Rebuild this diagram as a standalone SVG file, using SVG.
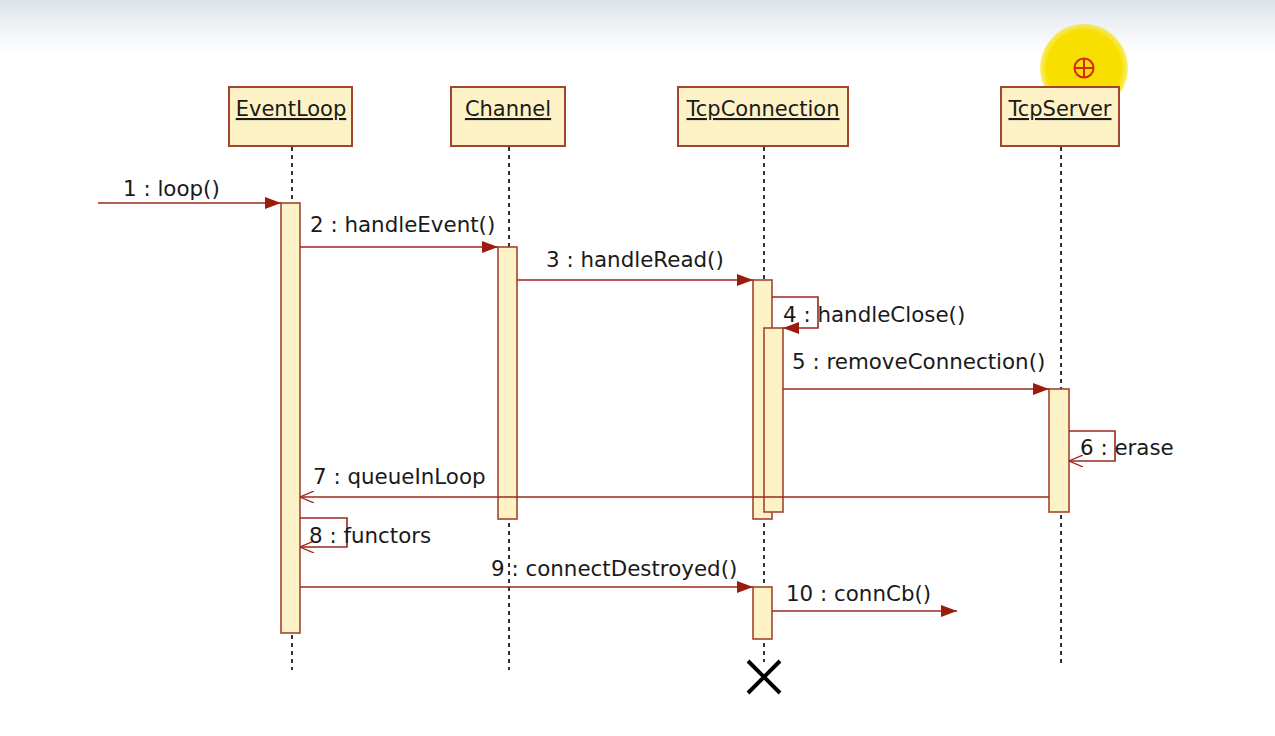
<svg xmlns="http://www.w3.org/2000/svg" width="1275" height="736" viewBox="0 0 1275 736">
  <defs>
    <linearGradient id="topBand" x1="0" y1="0" x2="0" y2="1">
      <stop offset="0" stop-color="#dbe2e8"/>
      <stop offset="0.45" stop-color="#eef1f4"/>
      <stop offset="1" stop-color="#ffffff"/>
    </linearGradient>
    <radialGradient id="spot" cx="0.5" cy="0.5" r="0.5">
      <stop offset="0.85" stop-color="#f7e000"/>
      <stop offset="1" stop-color="#f7e000" stop-opacity="0.55"/>
    </radialGradient>
    <marker id="filled" viewBox="0 0 16 12" refX="16" refY="6" markerWidth="16" markerHeight="12" markerUnits="userSpaceOnUse" orient="auto">
      <path d="M0,0 L16,6 L0,12 Z" fill="#9a1c0c"/>
    </marker>
    <marker id="open" viewBox="0 0 14 12" refX="14" refY="6" markerWidth="14" markerHeight="12" markerUnits="userSpaceOnUse" orient="auto">
      <path d="M0,0 L14,6 L0,12" fill="none" stroke="#9a2a1a" stroke-width="1.3"/>
    </marker>
  </defs>
  <style>
    .head { fill: #fdf2c6; stroke: #a2452f; stroke-width: 2; }
    .act { fill: #fdf2c6; stroke: #a2452f; stroke-width: 1.6; }
    .life { stroke: #333333; stroke-width: 2; stroke-dasharray: 4 4; fill: none; }
    .msg { stroke: #9a2a1a; stroke-width: 1.6; fill: none; }
    .name { font-family: "DejaVu Sans", sans-serif; font-size: 21px; fill: #1a1a1a; text-decoration: underline; }
    .lbl { font-family: "DejaVu Sans", sans-serif; font-size: 21.4px; fill: #1a1a1a; }
  </style>

  <rect x="0" y="0" width="1275" height="736" fill="#ffffff"/>
  <rect x="0" y="0" width="1275" height="55" fill="url(#topBand)"/>

  <!-- pointer highlight -->
  <circle cx="1084" cy="68" r="44" fill="url(#spot)"/>
  <circle cx="1084" cy="68" r="9.5" fill="none" stroke="#d8261a" stroke-width="2"/>
  <path d="M1084,59 V77 M1075,68 H1093" stroke="#d8261a" stroke-width="2"/>

  <!-- lifelines -->
  <g id="lifelines">
    <line class="life" x1="292" y1="147" x2="292" y2="670"/>
    <line class="life" x1="509" y1="147" x2="509" y2="670"/>
    <line class="life" x1="764" y1="147" x2="764" y2="662"/>
    <line class="life" x1="1061" y1="147" x2="1061" y2="665"/>
  </g>

  <g id="EventLoop">
    <rect class="head" x="229" y="87" width="123" height="59"/>
    <text class="name" x="291" y="116" text-anchor="middle">EventLoop</text>
    <rect class="act" x="281" y="203" width="19" height="430"/>
  </g>

  <g id="Channel">
    <rect class="head" x="451" y="87" width="114" height="59"/>
    <text class="name" x="508" y="116" text-anchor="middle">Channel</text>
    <rect class="act" x="498" y="247" width="19" height="272"/>
  </g>

  <g id="TcpConnection">
    <rect class="head" x="678" y="87" width="170" height="59"/>
    <text class="name" x="763" y="116" text-anchor="middle">TcpConnection</text>
    <rect class="act" x="753" y="280" width="19" height="239"/>
    <rect class="act" x="764" y="328" width="19" height="184"/>
    <rect class="act" x="753" y="587" width="19" height="52"/>
    <path d="M748,661 L780,693 M780,661 L748,693" stroke="#000000" stroke-width="4" fill="none"/>
  </g>

  <g id="TcpServer">
    <rect class="head" x="1001" y="87" width="118" height="59"/>
    <text class="name" x="1060" y="116" text-anchor="middle">TcpServer</text>
    <rect class="act" x="1049" y="389" width="20" height="123"/>
  </g>

  <!-- messages -->
  <g id="connectors">
    <line class="msg" x1="98" y1="203" x2="281" y2="203" marker-end="url(#filled)"/>
    <line class="msg" x1="300" y1="247" x2="498" y2="247" marker-end="url(#filled)"/>
    <line class="msg" x1="517" y1="280" x2="753" y2="280" marker-end="url(#filled)"/>
    <path class="msg" d="M772,297 H818 V328 H783" marker-end="url(#filled)"/>
    <line class="msg" x1="783" y1="389" x2="1049" y2="389" marker-end="url(#filled)"/>
    <path class="msg" d="M1069,431 H1115 V461 H1069" marker-end="url(#open)"/>
    <line class="msg" x1="1049" y1="497" x2="300" y2="497" marker-end="url(#open)"/>
    <path class="msg" d="M300,518 H347 V547 H300" marker-end="url(#open)"/>
    <line class="msg" x1="300" y1="587" x2="753" y2="587" marker-end="url(#filled)"/>
    <line class="msg" x1="772" y1="611" x2="957" y2="611" marker-end="url(#filled)"/>
  </g>

  <g id="labels">
    <text class="lbl" x="123" y="196">1 : loop()</text>
    <text class="lbl" x="310" y="232">2 : handleEvent()</text>
    <text class="lbl" x="546" y="267">3 : handleRead()</text>
    <text class="lbl" x="783" y="322">4 : handleClose()</text>
    <text class="lbl" x="792" y="369">5 : removeConnection()</text>
    <text class="lbl" x="1080" y="455">6 : erase</text>
    <text class="lbl" x="313" y="484">7 : queueInLoop</text>
    <text class="lbl" x="309" y="543">8 : functors</text>
    <text class="lbl" x="491" y="576">9 : connectDestroyed()</text>
    <text class="lbl" x="786" y="601">10 : connCb()</text>
  </g>
</svg>
